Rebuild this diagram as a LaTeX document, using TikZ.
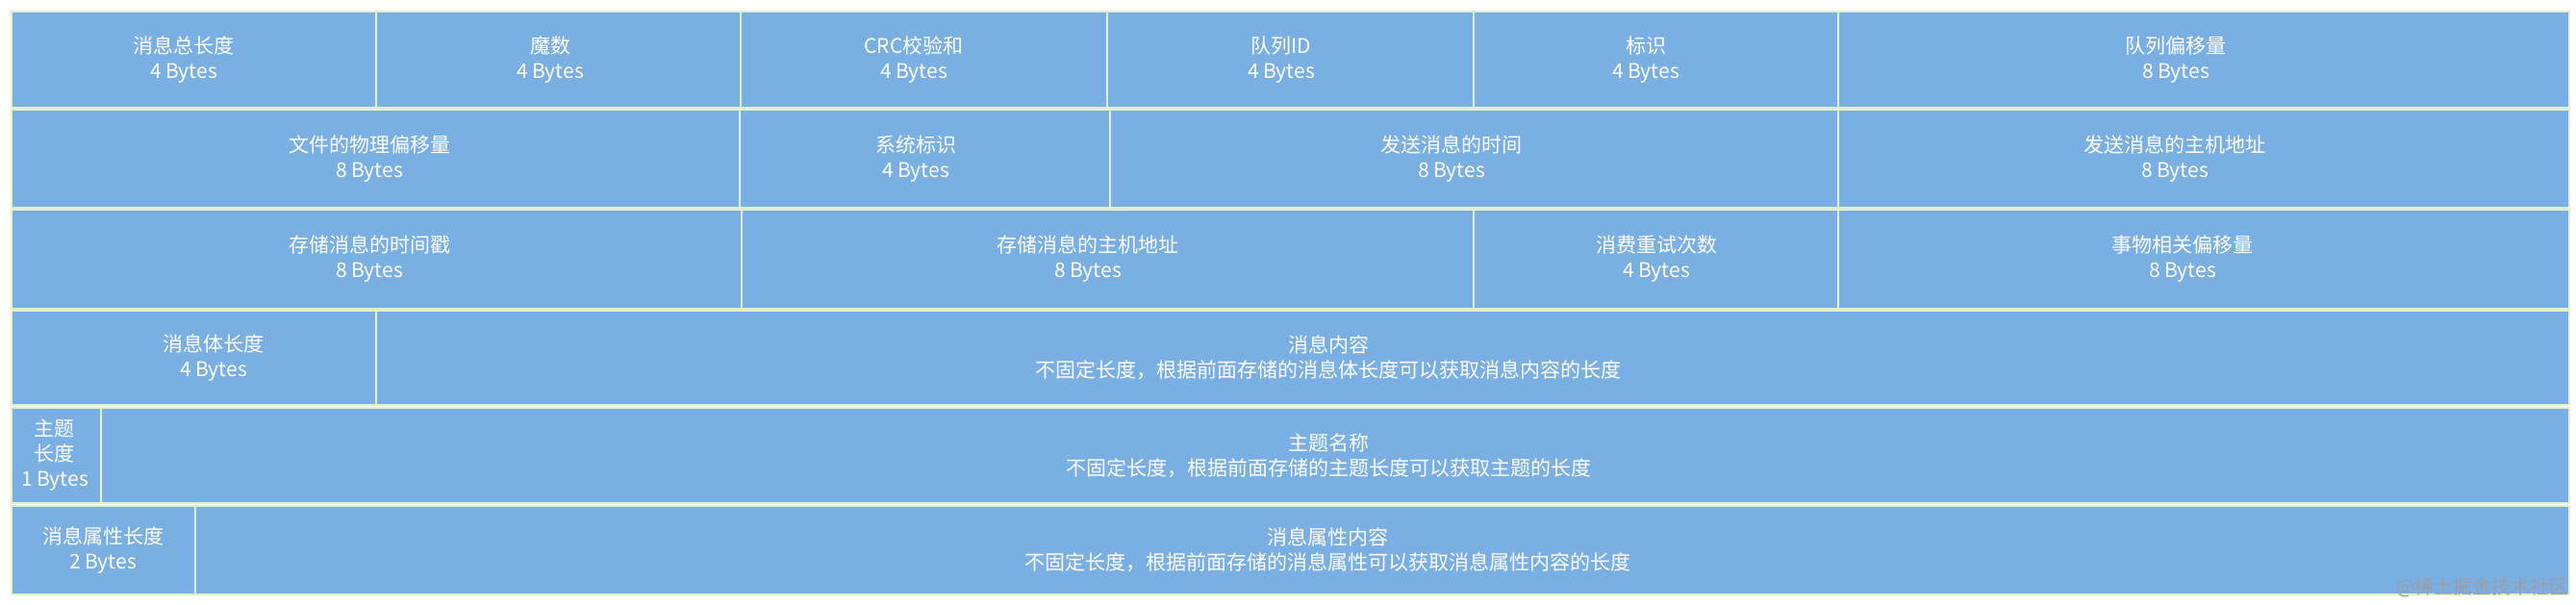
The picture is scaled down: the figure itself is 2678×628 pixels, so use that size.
\documentclass[tikz,border=0pt]{standalone}
\usepackage{fontspec}
\setmainfont{Noto Sans CJK SC}
\newfontfamily\cjk{Noto Sans CJK SC}
\definecolor{boxfill}{HTML}{7AAFE3}
\definecolor{boxline}{HTML}{E0F1CC}
\definecolor{wmgray}{HTML}{9A9EA6}
% #1,#2 corner; #3,#4 corner; #5 text centre x; #6 name; #7 text
\newcommand\fld[7]{%
  \draw[fieldbox] (#1,#2) rectangle (#3,#4);
  \node[fieldlbl] (#6) at (#5,{(#2+#4)/2}) {#7};}
\begin{document}
\begin{tikzpicture}[x=0.5pt,y=-0.5pt,
  fieldbox/.style={fill=boxfill,draw=boxline,line width=1.2pt},
  fieldlbl/.style={text=white,align=center,inner sep=0pt,
    font=\cjk\fontsize{10.5pt}{13pt}\selectfont}]
\useasboundingbox[fill=white] (0,0) rectangle (2678,628);
% row 1
\fld{12}{12}{391}{112}{191}{f1}{消息总长度\\4 Bytes}
\fld{391}{12}{770}{112}{572}{f2}{魔数\\4 Bytes}
\fld{770}{12}{1151}{112}{950}{f3}{CRC校验和\\4 Bytes}
\fld{1151}{12}{1532}{112}{1332}{f4}{队列ID\\4 Bytes}
\fld{1532}{12}{1911}{112}{1711}{f5}{标识\\4 Bytes}
\fld{1911}{12}{2671}{112}{2262}{f6}{队列偏移量\\8 Bytes}
% row 2
\fld{12}{114}{769}{216}{384}{g1}{文件的物理偏移量\\8 Bytes}
\fld{769}{114}{1154}{216}{952}{g2}{系统标识\\4 Bytes}
\fld{1154}{114}{1911}{216}{1509}{g3}{发送消息的时间\\8 Bytes}
\fld{1911}{114}{2671}{216}{2261}{g4}{发送消息的主机地址\\8 Bytes}
% row 3
\fld{12}{218}{771}{321}{384}{h1}{存储消息的时间戳\\8 Bytes}
\fld{771}{218}{1532}{321}{1131}{h2}{存储消息的主机地址\\8 Bytes}
\fld{1532}{218}{1911}{321}{1722}{h3}{消费重试次数\\4 Bytes}
\fld{1911}{218}{2671}{321}{2269}{h4}{事物相关偏移量\\8 Bytes}
% row 4
\fld{12}{323}{391}{421}{222}{k1}{消息体长度\\4 Bytes}
\fld{391}{323}{2671}{421}{1381}{k2}{消息内容\\不固定长度，根据前面存储的消息体长度可以获取消息内容的长度}
% row 5
\fld{12}{424}{105}{523}{57}{m1}{主题\\长度\\1 Bytes}
\fld{105}{424}{2671}{523}{1381}{m2}{主题名称\\不固定长度，根据前面存储的主题长度可以获取主题的长度}
% row 6
\fld{12}{526}{203}{618}{107}{n1}{消息属性长度\\2 Bytes}
\fld{203}{526}{2671}{618}{1380}{n2}{消息属性内容\\不固定长度，根据前面存储的消息属性可以获取消息属性内容的长度}
% watermark
\node[anchor=east,inner sep=0pt,text=wmgray,font=\cjk\fontsize{10pt}{12pt}\selectfont] (wm) at (2671,611) {@稀土掘金技术社区};
\end{tikzpicture}
\end{document}
